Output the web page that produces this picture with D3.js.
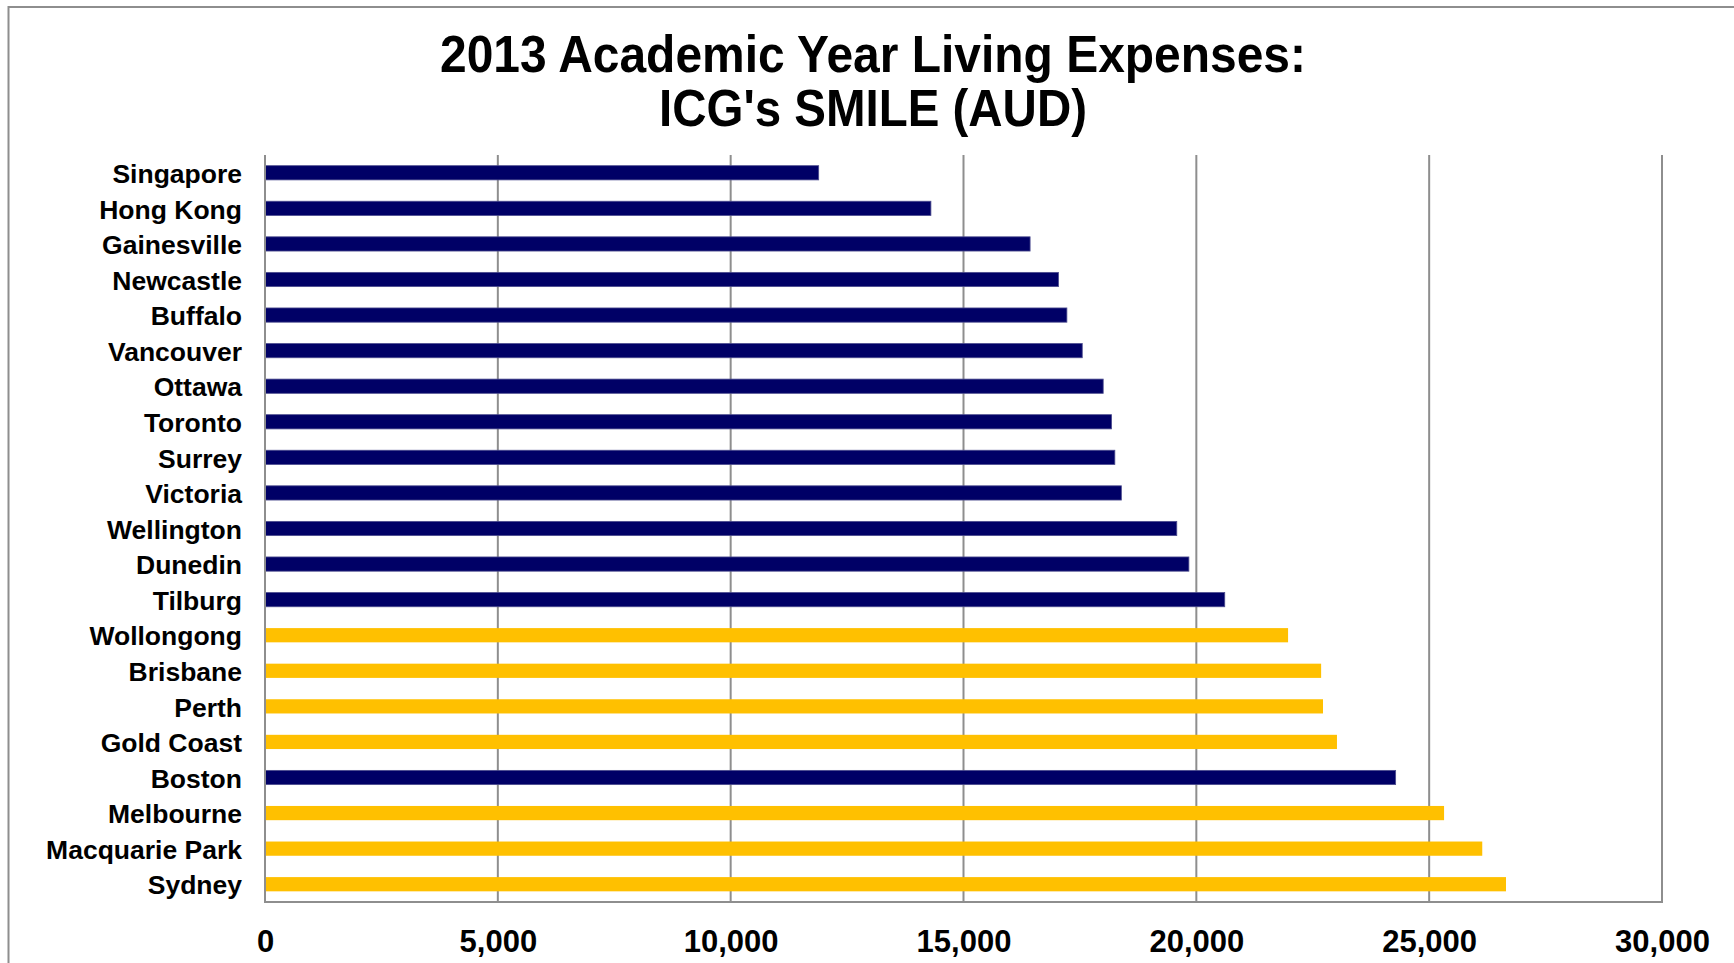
<!DOCTYPE html>
<html>
<head>
<meta charset="utf-8">
<script src="https://cdn.jsdelivr.net/npm/d3@7"></script>
<style>
  html, body { margin: 0; padding: 0; background: #fff; }
  svg { display: block; }
  text { font-family: "Liberation Sans", Arial, sans-serif; font-weight: bold; fill: #000; }
</style>
</head>
<body>
<svg id="chart" width="1734" height="963"></svg>
<script>
// ---- Data ----
const cities = ["Singapore", "Hong Kong", "Gainesville", "Newcastle", "Buffalo", "Vancouver",
  "Ottawa", "Toronto", "Surrey", "Victoria", "Wellington", "Dunedin", "Tilburg",
  "Wollongong", "Brisbane", "Perth", "Gold Coast", "Boston", "Melbourne", "Macquarie Park", "Sydney"];
const expenses = [11890, 14300, 16430, 17040, 17220, 17550, 18000, 18180, 18250, 18390,
  19580, 19840, 20610, 21970, 22680, 22720, 23020, 24280, 25320, 26140, 26650];
// 1 = ICG's SMILE location (gold), 0 = other (navy)
const isSmile = [0,0,0,0,0,0,0,0,0,0,0,0,0,1,1,1,1,0,1,1,1];
const xTicks = [0, 5000, 10000, 15000, 20000, 25000, 30000];
const titleLines = ["2013 Academic Year Living Expenses:", "ICG's SMILE (AUD)"];

// ---- Layout ----
const svg = d3.select("#chart");
const plot = { left: 265, right: 1662, top: 155, bottom: 902 };
const gridColor = "#8e8e8e";
const navy = "#000066";
const gold = "#FFC000";

// outer frame
svg.append("rect")
  .attr("x", 8.5).attr("y", 7).attr("width", 1800).attr("height", 1000)
  .attr("fill", "none").attr("stroke", gridColor).attr("stroke-width", 2);

const x = d3.scaleLinear().domain([0, 30000]).range([plot.left, plot.right]);
const y = d3.scaleBand().domain(cities).range([plot.top, plot.bottom]).paddingInner(0.6).paddingOuter(0.3);

// title
const titleSpecs = [
  { text: titleLines[0], y: 72, len: 866 },
  { text: titleLines[1], y: 126, len: 428 }
];
svg.selectAll("text.title").data(titleSpecs).enter().append("text")
  .attr("class", "title")
  .attr("x", 873).attr("y", d => d.y)
  .attr("text-anchor", "middle")
  .attr("font-size", 52)
  .attr("textLength", d => d.len)
  .attr("lengthAdjust", "spacingAndGlyphs")
  .text(d => d.text);

// gridlines
svg.append("g").selectAll("line").data(xTicks.slice(1)).enter().append("line")
  .attr("x1", d => x(d)).attr("x2", d => x(d))
  .attr("y1", plot.top).attr("y2", plot.bottom)
  .attr("stroke", gridColor).attr("stroke-width", 2);

// bars
svg.append("g").selectAll("rect").data(cities).enter().append("rect")
  .attr("x", x(0))
  .attr("y", d => y(d))
  .attr("width", (d, i) => x(expenses[i]) - x(0))
  .attr("height", y.bandwidth())
  .attr("fill", (d, i) => isSmile[i] ? gold : navy)
  .attr("stroke", (d, i) => isSmile[i] ? "none" : "#4d4d8f")
  .attr("stroke-width", 0.8);

// axes lines
svg.append("line").attr("x1", x(0)).attr("x2", x(0)).attr("y1", plot.top).attr("y2", plot.bottom + 1)
  .attr("stroke", gridColor).attr("stroke-width", 2);
svg.append("line").attr("x1", x(0) - 1).attr("x2", plot.right + 1).attr("y1", plot.bottom).attr("y2", plot.bottom)
  .attr("stroke", gridColor).attr("stroke-width", 2);

// x axis tick labels (via d3 axis)
const fmt = d3.format(",");
const xAxis = d3.axisBottom(x).tickValues(xTicks).tickFormat(fmt).tickSize(0).tickPadding(0);
const gx = svg.append("g").attr("transform", `translate(0, ${plot.bottom})`).call(xAxis);
gx.select(".domain").remove();
gx.selectAll("text")
  .attr("y", 50).attr("dy", null)
  .attr("font-size", 31)
  .attr("font-family", "Liberation Sans, Arial, sans-serif")
  .attr("font-weight", "bold")
  .attr("fill", "#000");

// y axis category labels
const yAxis = d3.axisLeft(y).tickSize(0).tickPadding(0);
const gy = svg.append("g").attr("transform", `translate(242, 1)`).call(yAxis);
gy.select(".domain").remove();
gy.selectAll("text")
  .attr("x", 0).attr("dy", "0.35em")
  .attr("font-size", 26.5)
  .attr("font-family", "Liberation Sans, Arial, sans-serif")
  .attr("font-weight", "bold")
  .attr("fill", "#000");
</script>
</body>
</html>
